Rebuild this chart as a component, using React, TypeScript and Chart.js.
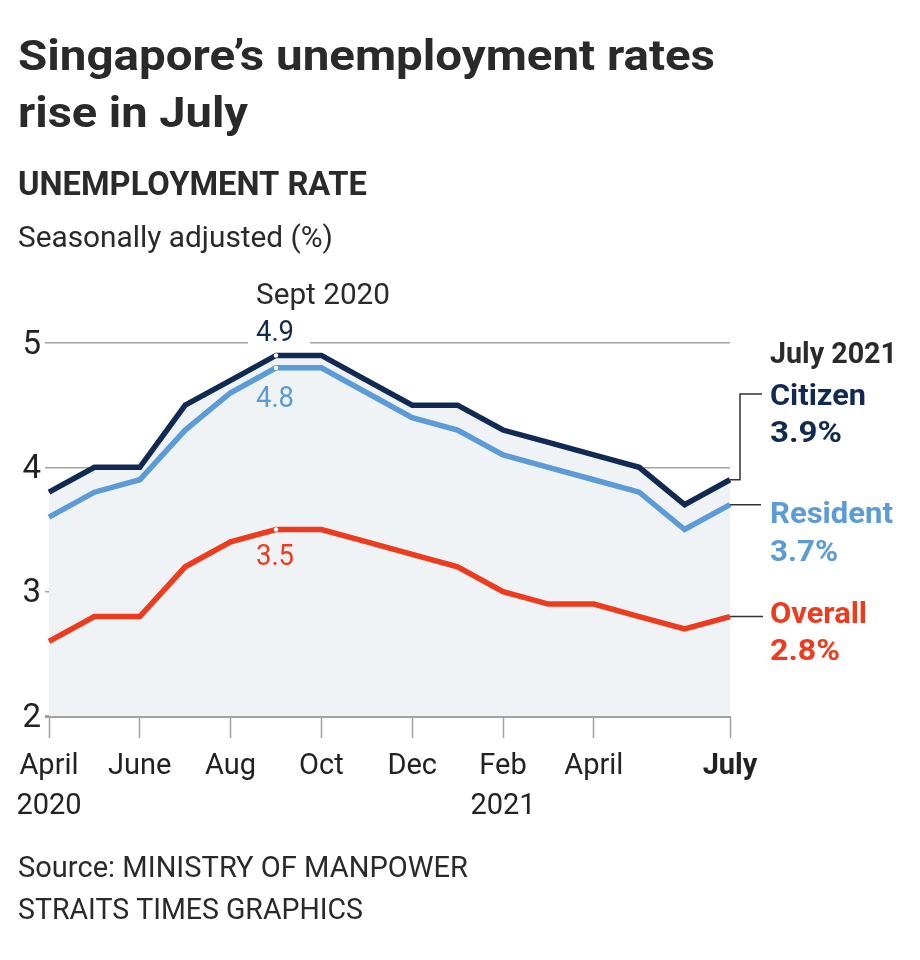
import React, { useEffect, useRef } from 'react';
import { Chart, registerables } from 'chart.js';

Chart.register(...registerables);

const months = ['Apr 2020', 'May 2020', 'Jun 2020', 'Jul 2020', 'Aug 2020', 'Sep 2020', 'Oct 2020', 'Nov 2020', 'Dec 2020', 'Jan 2021', 'Feb 2021', 'Mar 2021', 'Apr 2021', 'May 2021', 'Jun 2021', 'Jul 2021'];
const xTickLabels: (string | string[])[] = [['April', '2020'], '', 'June', '', 'Aug', '', 'Oct', '', 'Dec', '', ['Feb', '2021'], '', 'April', '', '', 'July'];
const citizen = [3.8, 4.0, 4.0, 4.5, 4.7, 4.9, 4.9, 4.7, 4.5, 4.5, 4.3, 4.2, 4.1, 4.0, 3.7, 3.9];
const resident = [3.6, 3.8, 3.9, 4.3, 4.6, 4.8, 4.8, 4.6, 4.4, 4.3, 4.1, 4.0, 3.9, 3.8, 3.5, 3.7];
const overall = [2.6, 2.8, 2.8, 3.2, 3.4, 3.5, 3.5, 3.4, 3.3, 3.2, 3.0, 2.9, 2.9, 2.8, 2.7, 2.8];
const yMin = 2;
const yMax = 5;
const peakIndex = 5;

const NAVY = '#102a54';
const BLUE = '#5b9bd8';
const RED = '#ee3b1e';
const TEXT = '#2a2a2a';
const GRID = '#a3a3a3';
const FILL = '#eff3f6';
const FONT = 'Roboto, "Open Sans", sans-serif';

function fitText(ctx: CanvasRenderingContext2D, text: string, x: number, y: number, font: string, color: string, width?: number) {
  ctx.save();
  ctx.font = font;
  ctx.fillStyle = color;
  ctx.textBaseline = 'alphabetic';
  ctx.textAlign = 'left';
  const w = ctx.measureText(text).width;
  const s = width ? width / w : 1;
  ctx.translate(x, y);
  ctx.scale(s, 1);
  ctx.fillText(text, 0, 0);
  ctx.restore();
}

const annotations = {
  id: 'annotations',
  afterDraw(chart: any) {
    const ctx: CanvasRenderingContext2D = chart.ctx;
    const xs = chart.scales.x;
    const ys = chart.scales.y;

    // Titles
    fitText(ctx, 'Singapore\u2019s unemployment rates', 18, 70, `bold 42px ${FONT}`, TEXT, 697);
    fitText(ctx, 'rise in July', 18, 127, `bold 42px ${FONT}`, TEXT, 230);
    fitText(ctx, 'UNEMPLOYMENT RATE', 18, 195, `bold 34px ${FONT}`, TEXT, 349);
    fitText(ctx, 'Seasonally adjusted (%)', 18, 247, `30px ${FONT}`, TEXT, 315);

    // Peak annotation
    const px = xs.getPixelForValue(peakIndex);
    const lx = px - 20;
    ctx.save();
    ctx.fillStyle = '#ffffff';
    ctx.fillRect(lx - 8, ys.getPixelForValue(yMax) - 4, 62, 8);
    ctx.restore();
    fitText(ctx, 'Sept 2020', lx, 304, `29px ${FONT}`, TEXT, 134);
    fitText(ctx, String(citizen[peakIndex]), lx, ys.getPixelForValue(citizen[peakIndex]) - 14.5, `29px ${FONT}`, NAVY, 38);
    fitText(ctx, String(resident[peakIndex]), lx, ys.getPixelForValue(resident[peakIndex]) + 39, `29px ${FONT}`, BLUE, 38);
    fitText(ctx, String(overall[peakIndex]), lx, ys.getPixelForValue(overall[peakIndex]) + 35, `29px ${FONT}`, RED, 38);

    // Leader lines
    const last = months.length - 1;
    const ex = xs.getPixelForValue(last);
    const cy = ys.getPixelForValue(citizen[last]);
    const ry = ys.getPixelForValue(resident[last]);
    const oy = ys.getPixelForValue(overall[last]);
    ctx.save();
    ctx.strokeStyle = '#333';
    ctx.lineWidth = 1.5;
    ctx.beginPath();
    ctx.moveTo(ex, cy);
    ctx.lineTo(ex + 10, cy);
    ctx.lineTo(ex + 10, 394);
    ctx.lineTo(ex + 32, 394);
    ctx.moveTo(ex, ry);
    ctx.lineTo(ex + 31, ry);
    ctx.moveTo(ex, oy);
    ctx.lineTo(ex + 33, oy);
    ctx.stroke();
    ctx.restore();

    const rx = ex + 40;
    fitText(ctx, 'July 2021', rx, 363, `bold 30px ${FONT}`, TEXT, 127);
    fitText(ctx, 'Citizen', rx, 405, `bold 30px ${FONT}`, NAVY, 96);
    fitText(ctx, `${citizen[last]}%`, rx, 442, `bold 30px ${FONT}`, NAVY, 72);
    fitText(ctx, 'Resident', rx, 523, `bold 30px ${FONT}`, BLUE, 123);
    fitText(ctx, `${resident[last]}%`, rx, 561, `bold 30px ${FONT}`, BLUE, 68);
    fitText(ctx, 'Overall', rx, 623, `bold 30px ${FONT}`, RED, 97);
    fitText(ctx, `${overall[last]}%`, rx, 660, `bold 30px ${FONT}`, RED, 70);

    // Source
    fitText(ctx, 'Source: MINISTRY OF MANPOWER', 18, 877, `30px ${FONT}`, TEXT, 450);
    fitText(ctx, 'STRAITS TIMES GRAPHICS', 18, 919, `30px ${FONT}`, TEXT, 345);
  },
};

export default function App() {
  const ref = useRef<HTMLCanvasElement | null>(null);

  useEffect(() => {
    if (!ref.current) return;
    const pointR = (c: any) => (c.dataIndex === peakIndex ? 2.2 : 0);
    const chart = new Chart(ref.current, {
      type: 'line',
      data: {
        labels: months,
        datasets: [
          {
            label: 'Overall',
            data: overall,
            borderColor: RED,
            borderWidth: 5.5,
            fill: false,
            pointRadius: pointR,
            pointBackgroundColor: '#ffffff',
            pointBorderWidth: 0,
            borderJoinStyle: 'miter',
            tension: 0,
          },
          {
            label: 'Resident',
            data: resident,
            borderColor: BLUE,
            borderWidth: 5.5,
            fill: false,
            pointRadius: pointR,
            pointBackgroundColor: '#ffffff',
            pointBorderWidth: 0,
            borderJoinStyle: 'miter',
            tension: 0,
          },
          {
            label: 'Citizen',
            data: citizen,
            borderColor: NAVY,
            backgroundColor: FILL,
            borderWidth: 5.5,
            fill: 'start',
            pointRadius: pointR,
            pointBackgroundColor: '#ffffff',
            pointBorderWidth: 0,
            borderJoinStyle: 'miter',
            tension: 0,
          },
        ],
      },
      options: {
        animation: false,
        responsive: false,
        devicePixelRatio: 1,
        events: [],
        layout: { padding: { top: 343, right: 190, bottom: 0, left: 0 } },
        plugins: {
          legend: { display: false },
          tooltip: { enabled: false },
          filler: { drawTime: 'beforeDatasetsDraw' },
        },
        scales: {
          x: {
            type: 'category',
            offset: false,
            border: { display: false },
            grid: {
              drawOnChartArea: false,
              drawTicks: true,
              tickLength: 22,
              tickWidth: 1.5,
              tickColor: (c: any) => (xTickLabels[c.index] ? GRID : 'rgba(0,0,0,0)'),
            },
            ticks: {
              autoSkip: false,
              maxRotation: 0,
              minRotation: 0,
              padding: 9,
              color: '#222',
              callback: (_v: any, i: number) => xTickLabels[i],
              font: (c: any) => ({ family: FONT, size: 29, weight: c.index === months.length - 1 ? 'bold' : 'normal', lineHeight: 40 / 29 }),
            },
            afterFit: (s: any) => {
              s.height = 244;
            },
          },
          y: {
            min: yMin,
            max: yMax,
            border: { display: false },
            grid: {
              color: GRID,
              lineWidth: (c: any) => (c.tick && c.tick.value === yMin ? 3 : 1.5),
              tickLength: 4,
              drawTicks: true,
            },
            ticks: {
              stepSize: 1,
              padding: 4,
              labelOffset: 2.5,
              color: '#222',
              font: { family: FONT, size: 33 },
            },
            afterFit: (s: any) => {
              s.width = 49;
            },
          },
        },
      },
      plugins: [annotations],
    });
    return () => chart.destroy();
  }, []);

  return (
    <canvas ref={ref} width={920} height={960} style={{ position: 'absolute', left: 0, top: 0, background: '#fff' }} />
  );
}
